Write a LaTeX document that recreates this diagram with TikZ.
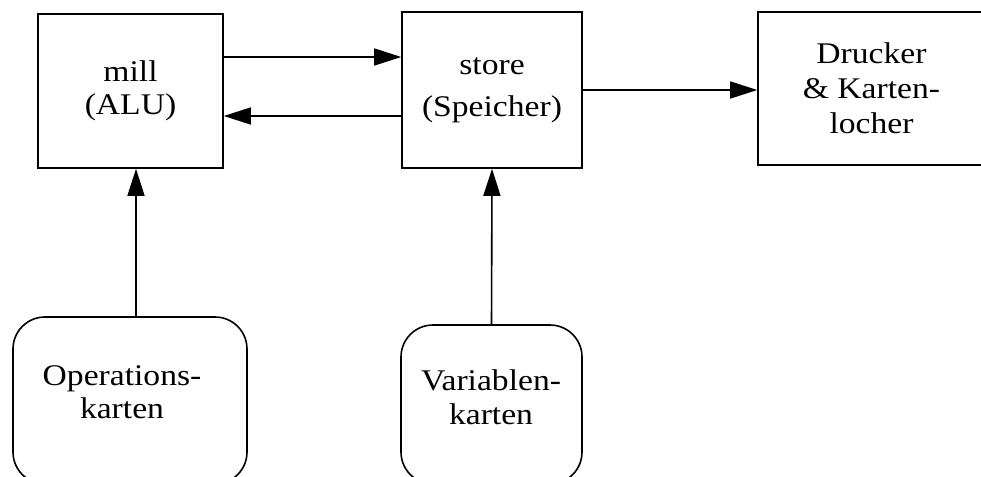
\documentclass[tikz,border=0pt]{standalone}
\usepackage{fontspec}
\setmainfont[FakeStretch=1.12]{Liberation Serif}
\usetikzlibrary{arrows.meta}
\begin{document}
\begin{tikzpicture}[x=1pt,y=-1pt,
  every node/.style={font=\fontsize{30}{33.5}\selectfont, align=center, inner sep=0pt},
  unit/.style={draw, line width=1.6pt, minimum width=#1},
  cards/.style={draw, line width=1.6pt, rounded corners=32pt},
  arr/.style={line width=1.6pt, -{Triangle[length=27pt,width=17pt]}}]
\useasboundingbox (0,0) rectangle (981,476);
\clip (0,0) rectangle (981,476);
\node[unit=185pt, minimum height=154pt] (mill) at (130.5,91) {mill\\(ALU)};
\node[unit=180pt, minimum height=156pt] (store) at (492,90) {store\\[8pt](Speicher)};
\node[unit=227pt, minimum height=153pt] (druck) at (871.5,88.5) {Drucker\\[1.5pt]\& Karten-\\[1.5pt]locher};
\node[cards, minimum width=234pt, minimum height=167pt] (ops) at (130,400.5) {};
\node (opstext) at (122,392) {Operations-\\karten};
\node[cards, minimum width=181pt, minimum height=159pt] (var) at (491.5,404.5) {};
\node (vartext) at (491,397) {Variablen-\\karten};
\coordinate (r1) at (0,57);
\coordinate (r2) at (0,116);
\coordinate (r3) at (0,90);
\coordinate (c1) at (136,0);
\draw[arr] (mill.east |- r1) -- (store.west |- r1);
\draw[arr] (store.west |- r2) -- (mill.east |- r2);
\draw[arr] (store.east |- r3) -- (druck.west |- r3);
\draw[arr] (ops.north -| c1) -- (mill.south -| c1);
\draw[arr] (var.north) -- (store.south);
\end{tikzpicture}
\end{document}
